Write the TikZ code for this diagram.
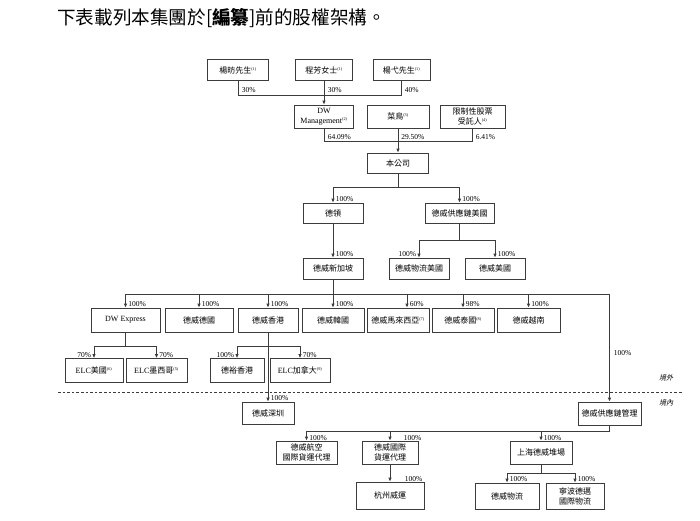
\documentclass[tikz,border=0pt]{standalone}
\usepackage{fontspec}
\setmainfont{Liberation Serif}
\newfontfamily\cjk{Noto Sans CJK TC}
\newfontfamily\cjksl[FakeSlant=0.25]{Noto Sans CJK TC}
\usetikzlibrary{arrows.meta}
\definecolor{lncol}{HTML}{3C3C3C}
\newcommand{\supnote}[1]{\textsuperscript{\fontsize{4.2}{4.5}\selectfont\rmfamily(#1)}}
\tikzset{
  box/.style={draw=lncol, line width=0.7pt, inner sep=1pt, align=center,
    font=\fontsize{8}{10}\selectfont\cjk, text=black},
  pct/.style={font=\fontsize{7.5}{8}\selectfont, inner sep=0.6pt, text=black},
  conn/.style={draw=lncol, line width=0.7pt},
  arr/.style={conn, -{Latex[length=4pt,width=3.4pt]}},
  zone/.style={font=\fontsize{7}{8}\selectfont\cjksl, text=black, inner sep=0pt},
}
\begin{document}
\begin{tikzpicture}[x=1pt,y=-1pt]
\useasboundingbox (0,0) rectangle (700,520);
\fill[white] (0,0) rectangle (700,520);

% title
\node[anchor=west, inner sep=0pt, font=\fontsize{18.6}{20}\selectfont\cjk] (title) at (57,18.5)
  {下表載列本集團於[\textbf{編纂}]前的股權架構。};

% row 1
\node[box, minimum width=61, minimum height=21] (p1) at (238,70) {楊昉先生\supnote{1}};
\node[box, minimum width=57, minimum height=21] (p2) at (324,70) {程芳女士\supnote{1}};
\node[box, minimum width=57, minimum height=21] (p3) at (401.5,70) {楊弋先生\supnote{1}};
% row 2
\node[box, minimum width=59, minimum height=23] (dwm) at (324,116.5) {{\rmfamily DW}\\{\rmfamily Management}\supnote{2}};
\node[box, minimum width=62, minimum height=23] (cn) at (398,116.5) {菜鳥\supnote{3}};
\node[box, minimum width=65, minimum height=23] (trust) at (472.5,116.5) {限制性股票\\受託人\supnote{4}};
% company
\node[box, minimum width=61, minimum height=20] (co) at (398,163) {本公司};
\node[box, minimum width=60, minimum height=20] (dl) at (333,213) {德領};
\node[box, minimum width=69, minimum height=20] (sc) at (459.5,213) {德威供應鏈美國};
\node[box, minimum width=60, minimum height=21] (sg) at (333,268.5) {德威新加坡};
\node[box, minimum width=60, minimum height=21] (lgus) at (419,268.5) {德威物流美國};
\node[box, minimum width=60, minimum height=21] (us) at (495,268.5) {德威美國};
% row 3
\node[box, minimum width=69, minimum height=24] (dwe) at (125.5,320) {\rmfamily DW Express};
\node[box, minimum width=68, minimum height=24] (de) at (199,320) {德威德國};
\node[box, minimum width=60, minimum height=24] (hk) at (268,320) {德威香港};
\node[box, minimum width=62, minimum height=24] (kr) at (333,320) {德威韓國};
\node[box, minimum width=62, minimum height=24] (my) at (398,320) {德威馬來西亞\supnote{7}};
\node[box, minimum width=62, minimum height=24] (th) at (463,320) {德威泰國\supnote{8}};
\node[box, minimum width=63, minimum height=24] (vn) at (528.5,320) {德威越南};
% row 4
\node[box, minimum width=58, minimum height=24] (elcus) at (94,370.5) {{\rmfamily ELC}美國\supnote{6}};
\node[box, minimum width=61, minimum height=24] (elcmx) at (156.5,370.5) {{\rmfamily ELC}墨西哥\supnote{5}};
\node[box, minimum width=54, minimum height=24] (dyhk) at (237,370.5) {德裕香港};
\node[box, minimum width=60, minimum height=24] (elcca) at (300,370.5) {{\rmfamily ELC}加拿大\supnote{9}};
% onshore
\node[box, minimum width=52, minimum height=22] (sz) at (268,413) {德威深圳};
\node[box, minimum width=63, minimum height=23] (scm) at (609.5,413.5) {德威供應鏈管理};
\node[box, minimum width=61, minimum height=23] (air) at (306.5,452.5) {德威航空\\國際貨運代理};
\node[box, minimum width=56, minimum height=23] (intl) at (390,452.5) {德威國際\\貨運代理};
\node[box, minimum width=62, minimum height=23] (sh) at (541,452.5) {上海德威堆場};
\node[box, minimum width=68, minimum height=27] (hz) at (390,495.5) {杭州威運};
\node[box, minimum width=64, minimum height=26] (wl) at (507,496) {德威物流};
\node[box, minimum width=58, minimum height=26] (nb) at (575,496) {寧波德邁\\國際物流};

% connectors
\draw[conn] (p1.south) -- ++(0,14) -| (p3.south);
\draw[arr] (p2.south) -- (dwm.north);
\draw[conn] (dwm.south) -- ++(0,13) -| (trust.south);
\draw[arr] (cn.south) -- (co.north);

\draw[conn] (co.south) -- ++(0,14) coordinate (cob);
\draw[arr] (cob) -| (dl.north);
\draw[arr] (cob) -| (sc.north);
\draw[arr] (dl.south) -- (sg.north);
\draw[conn] (sc.south) -- ++(0,17) coordinate (scb);
\draw[arr] (scb) -| (lgus.north);
\draw[arr] (scb) -| (us.north);

\draw[conn] (sg.south) -- ++(0,15) coordinate (sgb);
\path (my.north) ++(9,0) coordinate (myt);
\draw[arr] (sgb) -| (dwe.north);
\draw[arr] (sgb) -| (de.north);
\draw[arr] (sgb) -| (hk.north);
\draw[arr] (sgb) -- (kr.north);
\draw[arr] (sgb) -| (myt);
\draw[arr] (sgb) -| (th.north);
\draw[arr] (sgb) -| (vn.north);
\draw[arr] (sgb) -| (scm.north);

\draw[conn] (dwe.south) -- ++(0,14) coordinate (dweb);
\draw[arr] (dweb) -| (elcus.north);
\draw[arr] (dweb) -| (elcmx.north);
\draw[arr] (hk.south) -- (sz.north);
\path (hk.south) ++(0,14) coordinate (hkb);
\draw[arr] (hkb) -| (dyhk.north);
\draw[arr] (hkb) -| (elcca.north);

\draw[conn] (scm.south) -- ++(0,6) coordinate (scmb);
\draw[arr] (scmb) -| (air.north);
\draw[arr] (scmb) -| (intl.north);
\draw[arr] (scmb) -| (sh.north);
\draw[arr] (intl.south) -- (hz.north);
\draw[conn] (sh.south) -- ++(0,9) coordinate (shb);
\draw[arr] (shb) -| (wl.north);
\draw[arr] (shb) -| (nb.north);

% border line
\draw[draw=lncol, line width=0.6pt, dash pattern=on 2.6pt off 2pt] (58,392) -- (683,392);
\node[zone] (off) at (666,378) {境外};
\node[zone] (on) at (666,403) {境內};

% percentages
\node[pct, anchor=south west] (l1) at (241,93) {30\%};
\node[pct, anchor=south west] (l2) at (327,93) {30\%};
\node[pct, anchor=south west] (l3) at (404,93) {40\%};
\node[pct, anchor=south west] (l4) at (327,140) {64.09\%};
\node[pct, anchor=south west] (l5) at (400.5,140) {29.50\%};
\node[pct, anchor=south west] (l6) at (475,140) {6.41\%};
\node[pct, anchor=south west] (l7) at (335,202.5) {100\%};
\node[pct, anchor=south west] (l8) at (461.5,202.5) {100\%};
\node[pct, anchor=south west] (l9) at (335,257.5) {100\%};
\node[pct, anchor=south east] (l10) at (417,257.5) {100\%};
\node[pct, anchor=south west] (l11) at (497,257.5) {100\%};
\node[pct, anchor=south west] (l12) at (127.5,307.5) {100\%};
\node[pct, anchor=south west] (l13) at (201,307.5) {100\%};
\node[pct, anchor=south west] (l14) at (270,307.5) {100\%};
\node[pct, anchor=south west] (l15) at (335,307.5) {100\%};
\node[pct, anchor=south west] (l16) at (409,307.5) {60\%};
\node[pct, anchor=south west] (l17) at (465,307.5) {98\%};
\node[pct, anchor=south west] (l18) at (530.5,307.5) {100\%};
\node[pct, anchor=south east] (l19) at (92,358) {70\%};
\node[pct, anchor=south west] (l20) at (158.5,358) {70\%};
\node[pct, anchor=south east] (l21) at (235,358) {100\%};
\node[pct, anchor=south west] (l22) at (302,358) {70\%};
\node[pct, anchor=west] (l23) at (613,353) {100\%};
\node[pct, anchor=south west] (l24) at (270,401.5) {100\%};
\node[pct, anchor=south west] (l25) at (308.5,441) {100\%};
\node[pct, anchor=south west] (l26) at (403,441) {100\%};
\node[pct, anchor=south west] (l27) at (543,441) {100\%};
\node[pct, anchor=south west] (l28) at (404,482) {100\%};
\node[pct, anchor=south west] (l29) at (509,482.5) {100\%};
\node[pct, anchor=south west] (l30) at (577,482.5) {100\%};
\end{tikzpicture}
\end{document}
